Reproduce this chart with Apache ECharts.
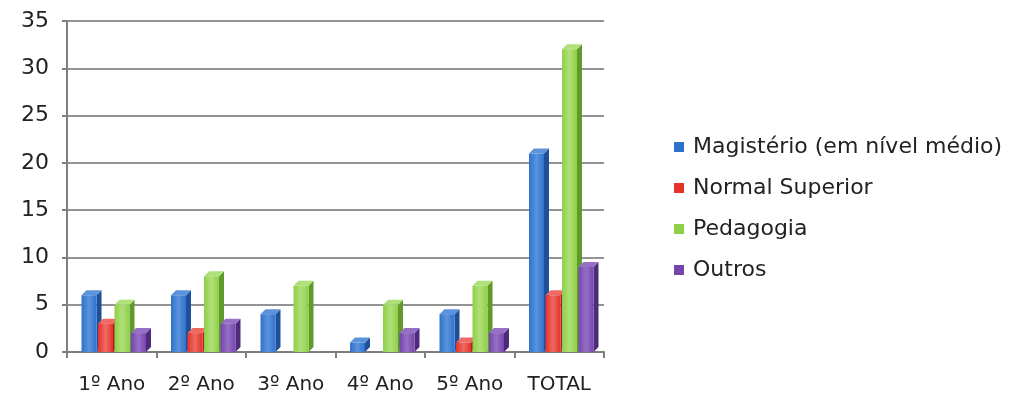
<!DOCTYPE html>
<html>
<head>
<meta charset="utf-8">
<script src="https://cdn.jsdelivr.net/npm/echarts@6/dist/echarts.min.js"></script>
<style>
  html, body { margin: 0; padding: 0; background: #fff; }
  #main { width: 1013px; height: 402px; }
</style>
</head>
<body>
<div id="main"></div>
<script>
const categories = ["1º Ano", "2º Ano", "3º Ano", "4º Ano", "5º Ano", "TOTAL"];
const seriesNames = ["Magistério (em nível médio)", "Normal Superior", "Pedagogia", "Outros"];
const magisterio = [6, 6, 4, 1, 4, 21];
const normalSuperior = [3, 2, 0, 0, 1, 6];
const pedagogia = [5, 8, 7, 5, 7, 32];
const outros = [2, 3, 0, 2, 2, 9];
const yTicks = [0, 5, 10, 15, 20, 25, 30, 35];

// front, side, top shades per series
const shades = [
  { front: "#2f72cc", dark: "#1d4f9a", top: "#5b93dc" },
  { front: "#e3332b", dark: "#a8211b", top: "#ee6a62" },
  { front: "#8fcf45", dark: "#5f9a2a", top: "#b0e07a" },
  { front: "#7544ad", dark: "#4e2a7a", top: "#9670c4" }
];
const allData = [magisterio, normalSuperior, pedagogia, outros];

const pitch = 16.5, barW = 15, depth = 5;

function makeRender(s) {
  return function (params, api) {
    const catIdx = api.value(0);
    const val = api.value(1);
    const base = api.coord([catIdx, 0]);
    const top = api.coord([catIdx, val]);
    const x0 = base[0] + (s - 1.5) * pitch + 2 - barW / 2;
    const x1 = x0 + barW;
    const yb = base[1];
    const yt = top[1];
    const sh = shades[s];
    if (val <= 0) return { type: "group", children: [] };
    return {
      type: "group",
      children: [
        { type: "polygon", shape: { points: [[x1, yb], [x1 + depth, yb - depth], [x1 + depth, yt - depth], [x1, yt]] },
          style: { fill: sh.dark } },
        { type: "polygon", shape: { points: [[x0, yt], [x0 + depth, yt - depth], [x1 + depth, yt - depth], [x1, yt]] },
          style: { fill: sh.top } },
        { type: "rect", shape: { x: x0, y: yt, width: barW, height: yb - yt },
          style: { fill: new echarts.graphic.LinearGradient(0, 0, 1, 0, [
            { offset: 0, color: sh.front }, { offset: 0.5, color: sh.top }, { offset: 1, color: sh.front }]) } }
      ]
    };
  };
}

const chart = echarts.init(document.getElementById("main"));
chart.setOption({
  animation: false,
  textStyle: { fontFamily: "DejaVu Sans" },
  grid: { left: 67, right: 409, top: 21, bottom: 50 },
  legend: {
    orient: "vertical",
    left: 669,
    top: 131,
    itemWidth: 10,
    itemHeight: 10,
    itemGap: 19,
    icon: "rect",
    data: seriesNames.map((n, i) => ({ name: n, itemStyle: { color: shades[i].front } })),
    textStyle: { fontSize: 22, color: "#222", lineHeight: 18, padding: [0, 0, 0, 4], fontFamily: "DejaVu Sans" }
  },
  xAxis: {
    type: "category",
    data: categories,
    axisLine: { lineStyle: { color: "#7f7f7f", width: 2 } },
    axisTick: { show: true, alignWithLabel: false, length: 6, lineStyle: { color: "#7f7f7f", width: 2 } },
    axisLabel: { fontSize: 20, color: "#222", margin: 23 }
  },
  yAxis: {
    type: "value",
    min: yTicks[0],
    max: yTicks[yTicks.length - 1],
    interval: 5,
    axisLine: { show: true, lineStyle: { color: "#7f7f7f", width: 2 } },
    axisTick: { show: true, length: 5, lineStyle: { color: "#7f7f7f", width: 2 } },
    axisLabel: { fontSize: 22, color: "#222", margin: 18 },
    splitLine: { lineStyle: { color: "#6f6f6f", width: 1.5 } }
  },
  series: allData.map((arr, s) => ({
    name: seriesNames[s],
    type: "custom",
    renderItem: makeRender(s),
    encode: { x: 0, y: 1 },
    itemStyle: { color: shades[s].front },
    data: arr.map((v, i) => [i, v])
  }))
});
</script>
</body>
</html>
